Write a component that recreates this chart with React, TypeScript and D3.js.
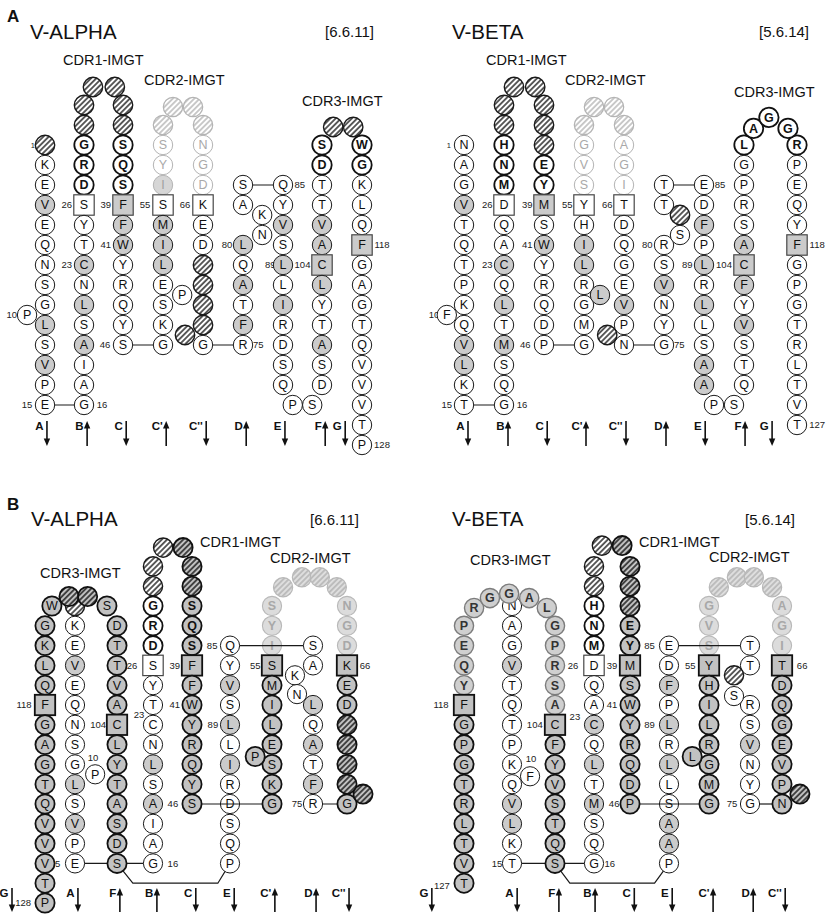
import React from "react";
import * as d3 from "d3";

const FONT = "'Liberation Sans', Arial, Helvetica, sans-serif";

// ---------------------------------------------------------------------------
// Data. One string per strand, read top to bottom. '-' = gap (hatched),
// ' ' = no residue. Class codes (per residue):
//  n normal, h hydrophobic, c CDR, l CDR2 faint, f CDR2 faint hydrophobic,
//  a anchor, A hydrophobic anchor, x gap, y faint gap,
//  g contact, G contact anchor, X contact gap, k contact CDR,
//  m faint contact, Y faint contact gap, z CDR3 contact
// ---------------------------------------------------------------------------

// V-ALPHA, view A (strands A B C C' C'' D E F G)
const alphaSeqA = [
  "-KEVEQNSGLSVPE",
  "--GRDSYTCNLSAIAG",
  "--SQSFFWYRQYS",
  "-SYISMILESKG",
  "-NGDKED----G",
  "SA LQATFR",
  "QYVSLLIRDSQ",
  "SDTTVACLYTASD",
  "WGKLQFGAGTQVVVTP",
];
const alphaClsA = [
  "xnnhnnnnnhnhnn",
  "xxcccannhnhnhnnn",
  "xxcccAhhnnnnn",
  "yllfahhhnnnn",
  "ylllannxxxxn",
  "nn hnhnhn",
  "nnhnhnhnnnn",
  "ccnnhhAhnnhnn",
  "ccnnnAnnnnnnnnnn",
];
const alphaExtraA = ["P", "-", "-", "-", "-", "P", "-", "K", "N", "P", "S", "-", "-"];
const alphaExtraClsA = ["n", "x", "x", "y", "y", "n", "x", "n", "n", "n", "n", "x", "x"];
const alphaNumA = ["1", "10", "15", "16", "23", "26", "39", "41", "46", "55", "66", "75", "80", "85", "89", "104", "118", "128"];

// V-BETA, view A
const betaSeqA = [
  "NAGVTQTPKQVLKT",
  "--HNMDQACQLTMSQG",
  "---EYMSWYRQDP",
  "-GVSYHILRGMG",
  "-AGITDQGEVPN",
  "TT RSVNYG",
  "EDFPLRLLSAA",
  "LGPRSACFYVSTQ",
  "RPEQYFGPGTRLTVT",
];
const betaClsA = [
  "nnnhnnnnnnhhnn",
  "xxcccannhnhnhnnn",
  "xxxccAnhnnnnn",
  "ylllanhhnnnn",
  "ylllannnnhnn",
  "nn nnhnnn",
  "nnhnhnhnnhh",
  "cnnnnhAhnhnnn",
  "cnnnnAnnnnnnnnn",
];
const betaExtraA = ["F", "-", "-", "-", "-", "L", "-", "-", "S", "P", "S", "A", "G", "G"];
const betaExtraClsA = ["n", "x", "x", "y", "y", "h", "x", "x", "n", "n", "n", "c", "c", "c"];
const betaNumA = ["1", "10", "15", "16", "23", "26", "39", "41", "46", "55", "66", "75", "80", "85", "89", "104", "118", "127"];

// V-ALPHA, view B (strands G A F B C E C' D C'')
const alphaSeqB = [
  "GKLQFGAGTQVVVTP",
  "-KEVEQNSGLSVPE",
  "DTTVACLYTASDS",
  "--GRDSYTCNLSAIAG",
  "--SQSFFWYRQYS",
  "QYVSLLIRDSQP",
  "SYISMILESKG",
  "SA LQATFR",
  "NGDKED----G",
];
const alphaClsB = [
  "ggggGgggggggggg",
  "xnnhnnnnnhnhnn",
  "gggggGggggggg",
  "xxcccannnnhnhnnn",
  "XXkkkGggggggg",
  "nnhnhnhnnnnn",
  "mmmGggggggg",
  "nn hnhnhn",
  "mmmGggXXXXg",
];
const alphaExtraB = ["W", "-", "-", "S", "-", "-", "-", "-", "-", "-", "P", "P", "K", "N", "-"];
const alphaExtraClsB = ["g", "X", "X", "g", "x", "X", "Y", "Y", "Y", "Y", "n", "g", "n", "n", "X"];
const alphaNumB = ["10", "15", "16", "23", "26", "39", "41", "46", "55", "66", "75", "85", "89", "104", "118", "128"];

// V-BETA, view B
const betaSeqB = [
  "PEQYFGPGTRLTVT",
  "NAGVTQTPKQVLKT",
  "GPRSACFYVSTQS",
  "--HNMDQACQLTMSQG",
  "---EYMSWYRQDP",
  "EDFPLRLLSAAP",
  "GVSYHILRGMG",
  "TT RSVNYG",
  "AGITDQGEVPN",
];
const betaClsB = [
  "zzzzGggggggggg",
  "nnnhnnnnnnhhnn",
  "zzzzzGggggggg",
  "xxcccannhnhnhnnn",
  "XXXkkGggggggg",
  "nnhnhnhnnhhn",
  "mmmGggggggg",
  "nn nnhnnn",
  "mmmGggggggg",
];
const betaExtraB = ["R", "G", "G", "A", "L", "-", "-", "-", "-", "-", "-", "F", "L", "-", "S", "-"];
const betaExtraClsB = ["z", "z", "z", "z", "z", "x", "X", "Y", "Y", "Y", "Y", "n", "g", "x", "n", "X"];
const betaNumB = ["10", "15", "16", "23", "26", "39", "41", "46", "55", "66", "75", "85", "89", "104", "118", "127"];

const strandsA = ["A", "B", "C", "C'", "C''", "D", "E", "F", "G"];
const dirsA = [1, -1, 1, -1, 1, -1, 1, -1, 1];
const strandsB = ["G", "A", "F", "B", "C", "E", "C'", "D", "C''"];
const dirsB = [1, 1, -1, -1, 1, 1, -1, -1, 1];

// ---------------------------------------------------------------------------
// Layout (grid units: column index, row index)
// ---------------------------------------------------------------------------
type Pt = [number, number];
type Layout = {
  cols: number[]; y0: number; dy: number; r: number;
  tops: number[]; extraAt: Pt[]; numAt: Pt[]; arrowAt: number[];
  arrowY: [number, number]; labelY: number;
  under: Pt[][]; over: Pt[][];
  titles: { t: string; x: number; y: number; s: number; b?: boolean }[];
};

const linesA: Pt[][] = [[[0, 13], [1, 13]], [[2, 10], [3, 10]], [[4, 10], [5, 10]], [[5, 2], [6, 2]]];

const layoutAlphaA: Layout = {
  cols: [45, 84, 123, 163, 203, 243, 283, 322, 362], y0: 145, dy: 20, r: 9.7,
  tops: [0, -2, -2, -1, -1, 2, 2, 0, 0],
  extraAt: [[-0.46, 8.5], [1.23, -2.9], [1.79, -2.9], [3.25, -1.9], [3.75, -1.9], [3.48, 7.5], [3.55, 9.5], [5.48, 3.5], [5.48, 4.5], [6.25, 13], [6.75, 13], [7.28, -0.9], [7.78, -0.9]],
  numAt: [[-0.31, 0], [-0.85, 8.5], [-0.46, 13], [1.46, 13], [0.56, 6], [0.56, 3], [1.56, 3], [1.56, 5], [1.54, 10], [2.55, 3], [3.55, 3], [5.38, 10], [4.6, 5], [6.43, 2], [5.68, 6], [6.5, 6], [8.5, 5], [8.5, 15]],
  arrowAt: [0.05, 1.08, 2.08, 3.08, 4.08, 5.08, 6.05, 7.08, 7.58],
  arrowY: [421, 446], labelY: 430,
  under: linesA, over: [],
  titles: [
    { t: "A", x: 7, y: 22, s: 17, b: true },
    { t: "V-ALPHA", x: 30, y: 39, s: 20.5 },
    { t: "[6.6.11]", x: 325, y: 37, s: 15 },
    { t: "CDR1-IMGT", x: 63, y: 65, s: 14.5 },
    { t: "CDR2-IMGT", x: 144, y: 85, s: 14.5 },
    { t: "CDR3-IMGT", x: 302, y: 106, s: 14.5 },
  ],
};

const layoutBetaA: Layout = {
  cols: [464, 504, 544, 584, 624, 664, 704, 744, 797], y0: 145, dy: 20, r: 9.7,
  tops: [0, -2, -2, -1, -1, 2, 2, 0, 0],
  extraAt: [[-0.43, 8.5], [1.25, -2.9], [1.78, -2.9], [3.25, -1.9], [3.75, -1.9], [3.4, 7.5], [3.58, 9.5], [5.4, 3.5], [5.4, 4.5], [6.25, 13], [6.75, 13], [7.18, -0.83], [7.47, -1.38], [7.83, -0.83]],
  numAt: [[-0.38, 0], [-0.75, 8.5], [-0.43, 13], [1.45, 13], [0.58, 6], [0.58, 3], [1.58, 3], [1.58, 5], [1.53, 10], [2.58, 3], [3.58, 3], [5.38, 10], [4.58, 5], [6.4, 2], [5.58, 6], [6.5, 6], [8.38, 5], [8.38, 14]],
  arrowAt: [0.1, 1.1, 2.08, 3.05, 4.05, 5.05, 6.03, 7.02, 7.53],
  arrowY: [421, 446], labelY: 430,
  under: linesA, over: [],
  titles: [
    { t: "V-BETA", x: 452, y: 39, s: 20.5 },
    { t: "[5.6.14]", x: 759, y: 37, s: 15 },
    { t: "CDR1-IMGT", x: 486, y: 65, s: 14.5 },
    { t: "CDR2-IMGT", x: 565, y: 85, s: 14.5 },
    { t: "CDR3-IMGT", x: 734, y: 97, s: 14.5 },
  ],
};

const layoutAlphaB: Layout = {
  cols: [45, 75, 117, 153, 192, 230, 272, 313, 347], y0: 606, dy: 19.8, r: 9.6,
  tops: [1, 0, 1, -2, -2, 2, 0, 2, 0],
  extraAt: [[0.23, 0], [0.8, -0.48], [1.3, -0.48], [1.76, 0], [3.26, -2.95], [3.77, -2.95], [6.27, -0.95], [6.73, -1.45], [7.2, -1.45], [7.7, -0.95], [1.48, 8.5], [5.6, 7.6], [6.56, 3.5], [6.61, 4.45], [8.47, 9.5]],
  numAt: [[1.43, 7.68], [0.33, 13], [3.51, 13], [2.61, 5.5], [2.42, 3], [3.56, 3], [3.56, 5], [3.51, 10], [5.6, 3], [8.53, 3], [6.61, 10], [4.53, 2], [4.55, 6], [1.55, 6], [-0.7, 5], [-0.73, 15]],
  arrowAt: [-1.1, 1.07, 2.08, 3.1, 4.1, 5.1, 6.07, 7.09, 8.06],
  arrowY: [888, 912], labelY: 897,
  under: [[[1, 13], [3, 13]], [[2, 13], [2.44, 14], [4.68, 14], [5, 13]], [[7, 10], [8, 10]]],
  over: [[[4, 10], [6, 10]], [[5, 2], [7, 2]]],
  titles: [
    { t: "B", x: 7, y: 510, s: 17, b: true },
    { t: "V-ALPHA", x: 31, y: 526, s: 20.5 },
    { t: "[6.6.11]", x: 310, y: 525, s: 15 },
    { t: "CDR1-IMGT", x: 200, y: 547, s: 14.5 },
    { t: "CDR2-IMGT", x: 270, y: 563, s: 14.5 },
    { t: "CDR3-IMGT", x: 40, y: 578, s: 14.5 },
  ],
};

const layoutBetaB: Layout = {
  cols: [464, 512, 555, 594, 630, 669, 709, 750, 782], y0: 606, dy: 19.8, r: 9.6,
  tops: [1, 0, 1, -2, -2, 2, 0, 2, 0],
  extraAt: [[0.21, 0.1], [0.54, -0.4], [0.94, -0.62], [1.4, -0.4], [1.81, 0.1], [3.22, -3.05], [3.78, -3.05], [6.24, -0.95], [6.68, -1.45], [7.12, -1.45], [7.69, -0.95], [1.42, 8.6], [5.58, 7.6], [6.61, 3.5], [6.61, 4.55], [8.56, 9.5]],
  numAt: [[1.44, 7.73], [0.69, 13], [3.44, 13], [2.51, 5.6], [2.46, 3], [3.5, 3], [3.5, 5], [3.56, 10], [5.53, 3], [8.63, 3], [6.56, 10], [4.5, 2], [4.5, 6], [1.53, 6], [-0.48, 5], [-0.46, 14.1]],
  arrowAt: [-0.67, 1.12, 2.1, 3.03, 4.11, 5.08, 6.1, 7.1, 8.1],
  arrowY: [888, 912], labelY: 897,
  under: [[[1, 13], [3, 13]], [[2, 13], [2.38, 14], [4.63, 14], [5, 13]], [[7, 10], [8, 10]]],
  over: [[[4, 10], [6, 10]], [[5, 2], [7, 2]]],
  titles: [
    { t: "V-BETA", x: 452, y: 526, s: 20.5 },
    { t: "[5.6.14]", x: 745, y: 525, s: 15 },
    { t: "CDR1-IMGT", x: 639, y: 547, s: 14.5 },
    { t: "CDR2-IMGT", x: 709, y: 562, s: 14.5 },
    { t: "CDR3-IMGT", x: 470, y: 565, s: 14.5 },
  ],
};

// residue styles
type Sty = { fill: string; stroke: string; sw: number; text?: string; bold?: boolean; box?: boolean };
const GRAY = "#cbcbcb";
const STY: Record<string, Sty> = {
  n: { fill: "#fff", stroke: "#1a1a1a", sw: 1 },
  h: { fill: GRAY, stroke: "#1a1a1a", sw: 1 },
  c: { fill: "#fff", stroke: "#111", sw: 1.8, bold: true },
  l: { fill: "#fff", stroke: "#b4b4b4", sw: 1, text: "#a9a9a9" },
  f: { fill: "#d6d6d6", stroke: "#b4b4b4", sw: 1, text: "#a0a0a0" },
  a: { fill: "#fff", stroke: "#474747", sw: 1.2, box: true },
  A: { fill: GRAY, stroke: "#474747", sw: 1.2, box: true },
  x: { fill: "url(#hatchDark)", stroke: "#1a1a1a", sw: 1.4 },
  y: { fill: "url(#hatchLight)", stroke: "#b4b4b4", sw: 1.2 },
  g: { fill: "#c2c2c2", stroke: "#111", sw: 1.8 },
  G: { fill: "#c2c2c2", stroke: "#111", sw: 1.8, box: true },
  X: { fill: "url(#hatchGray)", stroke: "#111", sw: 1.8 },
  k: { fill: "#c2c2c2", stroke: "#111", sw: 1.8, bold: true },
  m: { fill: "#dcdcdc", stroke: "#b8b8b8", sw: 1.1, text: "#a8a8a8", bold: true },
  Y: { fill: "url(#hatchLightGray)", stroke: "#b8b8b8", sw: 1.2 },
  z: { fill: "#cfcfcf", stroke: "#7c7c7c", sw: 1.4, text: "#333", bold: true },
};

const hatches = [
  { id: "hatchDark", bg: "#fff", fg: "#1a1a1a" },
  { id: "hatchLight", bg: "#fff", fg: "#b4b4b4" },
  { id: "hatchGray", bg: "#c2c2c2", fg: "#111" },
  { id: "hatchLightGray", bg: "#dedede", fg: "#b0b0b0" },
];

type Res = { aa: string; c: string; col: number; row: number };

function Panel({ seqs, cls, extra, extraCls, nums, strands, dirs, L }: {
  seqs: string[]; cls: string[]; extra: string[]; extraCls: string[]; nums: string[];
  strands: string[]; dirs: number[]; L: Layout;
}) {
  const x = d3.scaleLinear().domain(d3.range(L.cols.length)).range(L.cols);
  const y = d3.scaleLinear().domain([0, 1]).range([L.y0, L.y0 + L.dy]);
  const r = L.r;

  const res: Res[] = [];
  seqs.forEach((s, i) => {
    s.split("").forEach((aa, j) => {
      if (aa !== " ") res.push({ aa, c: cls[i][j], col: i, row: L.tops[i] + j });
    });
  });
  extra.forEach((aa, i) => res.push({ aa, c: extraCls[i], col: L.extraAt[i][0], row: L.extraAt[i][1] }));

  const line = d3.line<Pt>().x((d) => x(d[0])).y((d) => y(d[1]));

  const trimmed = (pts: Pt[]) => {
    const [a, b] = [pts[0], pts[pts.length - 1]];
    const ax = x(a[0]), ay = y(a[1]), bx = x(b[0]), by = y(b[1]);
    const len = Math.hypot(bx - ax, by - ay);
    const ux = (bx - ax) / len, uy = (by - ay) / len;
    return `M${ax + ux * r},${ay + uy * r}L${bx - ux * r},${by - uy * r}`;
  };

  return (
    <g>
      {L.titles.map((t, i) => (
        <text key={"t" + i} x={t.x} y={t.y} fontSize={t.s} fontWeight={t.b ? "bold" : "normal"} fill="#111">
          {t.t}
        </text>
      ))}
      {L.under.map((p, i) => (
        <path key={"u" + i} d={line(p) || ""} fill="none" stroke="#1a1a1a" strokeWidth={1.2} />
      ))}
      {nums.map((t, i) => (
        <text key={"n" + i} x={x(L.numAt[i][0])} y={y(L.numAt[i][1]) + 3.4}
          fontSize={t === "1" ? 7.5 : 9.5} textAnchor="middle" fill="#222">
          {t}
        </text>
      ))}
      {res.map((d, i) => {
        const s = STY[d.c];
        const cx = x(d.col), cy = y(d.row);
        return (
          <g key={"r" + i}>
            {s.box ? (
              <rect x={cx - 10.2} y={cy - 10.2} width={20.4} height={20.4} fill={s.fill} stroke={s.stroke} strokeWidth={s.sw} />
            ) : (
              <circle cx={cx} cy={cy} r={r} fill={s.fill} stroke={s.stroke} strokeWidth={s.sw} />
            )}
            {d.aa !== "-" && (
              <text x={cx} y={cy + 4.4} textAnchor="middle" fontSize={12.5}
                fontWeight={s.bold ? "bold" : "normal"} fill={s.text || "#111"}>
                {d.aa}
              </text>
            )}
          </g>
        );
      })}
      {L.over.map((p, i) => (
        <path key={"o" + i} d={trimmed(p)} fill="none" stroke="#1a1a1a" strokeWidth={1.2} />
      ))}
      {strands.map((s, i) => {
        const ax = x(L.arrowAt[i]);
        const [y1, y2] = L.arrowY;
        const down = dirs[i] > 0;
        const head = down
          ? `${ax - 3.2},${y2 - 7.5} ${ax + 3.2},${y2 - 7.5} ${ax},${y2}`
          : `${ax - 3.2},${y1 + 7.5} ${ax + 3.2},${y1 + 7.5} ${ax},${y1}`;
        return (
          <g key={"s" + i}>
            <line x1={ax} x2={ax} y1={down ? y1 : y1 + 6} y2={down ? y2 - 6 : y2} stroke="#111" strokeWidth={1.6} />
            <polygon points={head} fill="#111" />
            <text x={ax - 3.5} y={L.labelY} textAnchor="end" fontSize={11.5} fontWeight="bold" fill="#111">
              {s}
            </text>
          </g>
        );
      })}
    </g>
  );
}

export default function App() {
  return (
    <svg width={827} height={917} viewBox="0 0 827 917"
      style={{ position: "absolute", left: 0, top: 0, background: "#fff", fontFamily: FONT, opacity: 0.999 }}>
      <defs>
        {hatches.map((h) => (
          <pattern key={h.id} id={h.id} patternUnits="userSpaceOnUse" width={3.8} height={3.8} patternTransform="rotate(45)">
            <rect width={3.8} height={3.8} fill={h.bg} />
            <line x1={1.9} y1={0} x2={1.9} y2={3.8} stroke={h.fg} strokeWidth={1.4} />
          </pattern>
        ))}
      </defs>
      <rect width={827} height={917} fill="#fff" />
      <Panel seqs={alphaSeqA} cls={alphaClsA} extra={alphaExtraA} extraCls={alphaExtraClsA} nums={alphaNumA}
        strands={strandsA} dirs={dirsA} L={layoutAlphaA} />
      <Panel seqs={betaSeqA} cls={betaClsA} extra={betaExtraA} extraCls={betaExtraClsA} nums={betaNumA}
        strands={strandsA} dirs={dirsA} L={layoutBetaA} />
      <Panel seqs={alphaSeqB} cls={alphaClsB} extra={alphaExtraB} extraCls={alphaExtraClsB} nums={alphaNumB}
        strands={strandsB} dirs={dirsB} L={layoutAlphaB} />
      <Panel seqs={betaSeqB} cls={betaClsB} extra={betaExtraB} extraCls={betaExtraClsB} nums={betaNumB}
        strands={strandsB} dirs={dirsB} L={layoutBetaB} />
    </svg>
  );
}
